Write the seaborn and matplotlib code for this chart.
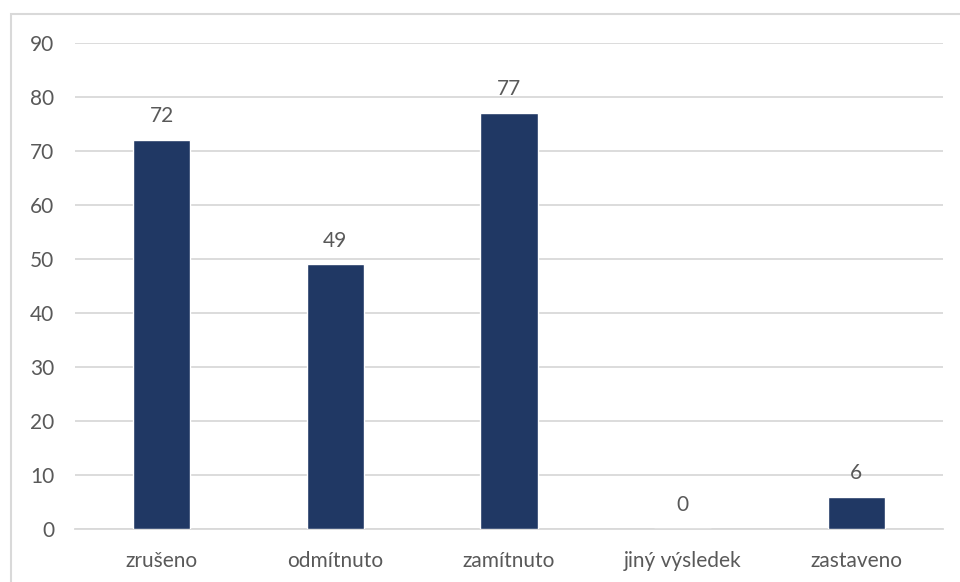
import matplotlib
matplotlib.use("Agg")
import matplotlib.pyplot as plt
import seaborn as sns
import pandas as pd
from matplotlib.patches import Rectangle

categories = ["zrušeno", "odmítnuto", "zamítnuto", "jiný výsledek", "zastaveno"]
values = [72, 49, 77, 0, 6]
y_ticks = [0, 10, 20, 30, 40, 50, 60, 70, 80, 90]

sns.set_theme(style="white")
plt.rcParams["font.family"] = ["Lato", "DejaVu Sans"]

df = pd.DataFrame({"kategorie": categories, "pocet": values})

fig = plt.figure(figsize=(9.6, 5.82), dpi=100)
ax = fig.add_axes([75 / 960, 1 - 529 / 582, (943 - 75) / 960, (529 - 43) / 582])

sns.barplot(data=df, x="kategorie", y="pocet", color="#203864", width=0.33,
            saturation=1, ax=ax, zorder=3)

text_color = "#595959"
grid_color = "#D9D9D9"

ax.set_ylim(0, 90)
ax.set_xlim(-0.5, 4.5)
ax.set_yticks(y_ticks)
ax.set_yticklabels([str(t) for t in y_ticks])
ax.yaxis.grid(True, color=grid_color, linewidth=1.3, zorder=0)
ax.set_axisbelow(True)
for side in ["top", "right", "left"]:
    ax.spines[side].set_visible(False)
ax.spines["bottom"].set_color(grid_color)
ax.spines["bottom"].set_linewidth(1.3)
ax.set_xlabel("")
ax.set_ylabel("")
ax.tick_params(axis="both", length=0, labelsize=15, colors=text_color)
ax.tick_params(axis="x", pad=16)
ax.tick_params(axis="y", pad=15)

for container in ax.containers:
    ax.bar_label(container, labels=[str(v) for v in values], padding=10,
                 fontsize=15, color=text_color)

# Outer chart frame
fig.patches.append(Rectangle((11 / 960, -0.5), 2.0, 1.5 - 14 / 582,
                             transform=fig.transFigure, fill=False,
                             edgecolor=grid_color, linewidth=1.5))

fig.savefig("out.png", dpi=100)
